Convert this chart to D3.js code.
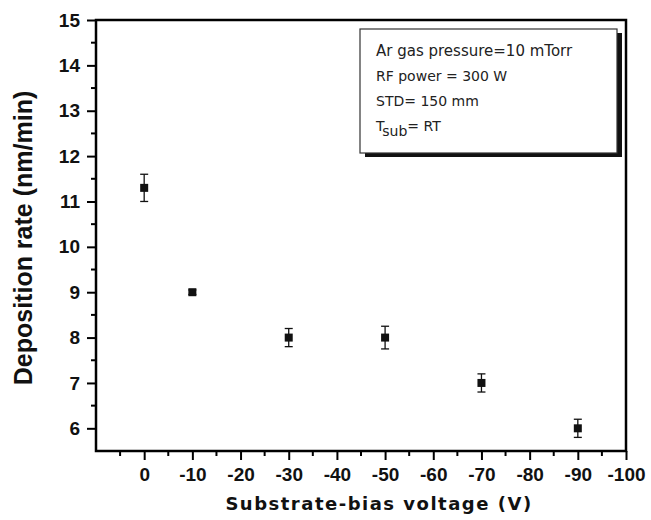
<!DOCTYPE html>
<html>
<head>
<meta charset="utf-8">
<script src="https://cdn.jsdelivr.net/npm/d3@7"></script>
<style>
  body { margin: 0; background: #fff; }
  svg { font-family: "Liberation Sans", Arial, sans-serif; }
</style>
</head>
<body>
<div id="chart"></div>
<script>
// data
var voltages = [0, -10, -30, -50, -70, -90];
var rates = [11.3, 9.0, 8.0, 8.0, 7.0, 6.0];
var errs = [0.3, 0.05, 0.2, 0.25, 0.2, 0.2];
var xTicks = [0, -10, -20, -30, -40, -50, -60, -70, -80, -90, -100];
var yTicks = [6, 7, 8, 9, 10, 11, 12, 13, 14, 15];
var notes = ["Ar gas pressure=10 mTorr", "RF power = 300 W", "STD= 150 mm"];

var W = 651, H = 520;
var margin = {top: 20, right: 25, bottom: 69, left: 96};
var w = W - margin.left - margin.right,
    h = H - margin.top - margin.bottom;

var svg = d3.select("#chart").append("svg")
  .attr("width", W).attr("height", H);
var g = svg.append("g")
  .attr("transform", "translate(" + margin.left + "," + margin.top + ")");

var x = d3.scaleLinear().domain([10, -100]).range([0, w]);
var y = d3.scaleLinear().domain([5.5, 15]).range([h, 0]);

// minor ticks
var xMinor = d3.range(5, -100, -10);
var yMinor = d3.range(6.5, 15, 1);

g.selectAll(".xminor").data(xMinor).enter().append("line")
  .attr("x1", d => x(d)).attr("x2", d => x(d))
  .attr("y1", h).attr("y2", h + 5)
  .attr("stroke", "#000").attr("stroke-width", 2);
g.selectAll(".yminor").data(yMinor).enter().append("line")
  .attr("x1", 0).attr("x2", -5)
  .attr("y1", d => y(d)).attr("y2", d => y(d))
  .attr("stroke", "#000").attr("stroke-width", 2);

// axes
var xAxis = g.append("g").attr("transform", "translate(0," + h + ")")
  .call(d3.axisBottom(x).tickValues(xTicks).tickSize(9).tickPadding(8).tickFormat(d3.format("d")));
var yAxis = g.append("g")
  .call(d3.axisLeft(y).tickValues(yTicks).tickSize(9).tickPadding(7));

[xAxis, yAxis].forEach(function(a) {
  a.select(".domain").remove();
  a.selectAll(".tick line").attr("stroke-width", 2);
  a.selectAll("text").attr("font-size", 19).attr("font-weight", "bold")
    .attr("fill", "#111").attr("font-family", "Liberation Sans, Arial, sans-serif");
});
xAxis.selectAll("text").text(d => d === 0 ? "0" : "-" + Math.abs(d));

// frame
g.append("rect")
  .attr("x", 0).attr("y", 0).attr("width", w).attr("height", h)
  .attr("fill", "none").attr("stroke", "#000").attr("stroke-width", 2.5);

// error bars
var pts = voltages.map((v, i) => ({v: v, r: rates[i], e: errs[i]}));
var eb = g.selectAll(".eb").data(pts).enter().append("g");
eb.append("line")
  .attr("x1", d => x(d.v)).attr("x2", d => x(d.v))
  .attr("y1", d => y(d.r + d.e)).attr("y2", d => y(d.r - d.e))
  .attr("stroke", "#111").attr("stroke-width", 1.3);
eb.append("line")
  .attr("x1", d => x(d.v) - 4).attr("x2", d => x(d.v) + 4)
  .attr("y1", d => y(d.r + d.e)).attr("y2", d => y(d.r + d.e))
  .attr("stroke", "#111").attr("stroke-width", 1.3);
eb.append("line")
  .attr("x1", d => x(d.v) - 4).attr("x2", d => x(d.v) + 4)
  .attr("y1", d => y(d.r - d.e)).attr("y2", d => y(d.r - d.e))
  .attr("stroke", "#111").attr("stroke-width", 1.3);
eb.append("rect")
  .attr("x", d => x(d.v) - 4).attr("y", d => y(d.r) - 4)
  .attr("width", 8).attr("height", 8).attr("fill", "#111");

// info box with shadow
var bx = 264, by = 9, bw = 257, bh = 124;
g.append("rect").attr("x", bx + 5).attr("y", by + 4).attr("width", bw).attr("height", bh)
  .attr("fill", "#111");
g.append("rect").attr("x", bx).attr("y", by).attr("width", bw).attr("height", bh)
  .attr("fill", "#fff").attr("stroke", "#333").attr("stroke-width", 1.2);
var noteSize = [15, 14, 14];
notes.forEach(function(t, i) {
  g.append("text").attr("x", bx + 16).attr("y", by + 27 + i * 25)
    .attr("font-family", "DejaVu Sans, Verdana, sans-serif")
    .attr("font-size", noteSize[i]).attr("fill", "#222").text(t);
});
var ts = g.append("text").attr("x", bx + 16).attr("y", by + 27 + 3 * 25)
  .attr("font-family", "DejaVu Sans, Verdana, sans-serif")
  .attr("font-size", 14).attr("fill", "#222");
ts.append("tspan").text("T");
ts.append("tspan").attr("dy", 5).attr("font-size", 14).text("sub");
ts.append("tspan").attr("dy", -5).text("= RT");

// axis titles
svg.append("text")
  .attr("transform", "translate(32,238) rotate(-90)")
  .attr("text-anchor", "middle").attr("font-size", 25).attr("font-weight", "bold")
  .attr("fill", "#111").text("Deposition rate (nm/min)");
svg.append("text")
  .attr("x", 379).attr("y", 510)
  .attr("text-anchor", "middle").attr("font-size", 18).attr("font-weight", "bold")
  .attr("font-family", "DejaVu Sans, Verdana, sans-serif")
  .attr("letter-spacing", 1.5).attr("fill", "#111").text("Substrate-bias voltage (V)");
</script>
</body>
</html>
